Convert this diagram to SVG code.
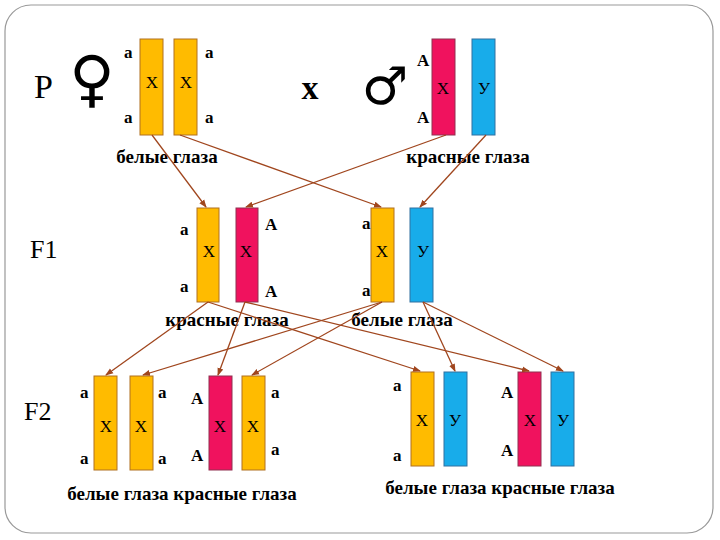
<svg xmlns="http://www.w3.org/2000/svg" width="720" height="540" viewBox="0 0 720 540">
<style>
.o{fill:#ffbb00;stroke:#b07020;stroke-width:1}
.r{fill:#f0125e;stroke:#903050;stroke-width:1}
.b{fill:#18acea;stroke:#3070a0;stroke-width:1}
text{font-family:"Liberation Serif","DejaVu Serif",serif}
.t{font-weight:bold;font-size:17px;fill:#000}
.x{font-size:17px;fill:#000;text-anchor:middle}
.l{font-weight:bold;font-size:19px;fill:#000;text-anchor:middle}
.c line{stroke:#a0461e;stroke-width:1.3;marker-end:url(#ah)}
</style>
<defs><marker id="ah" markerWidth="8" markerHeight="8" refX="7" refY="4" orient="auto" markerUnits="userSpaceOnUse"><path d="M0,1 L8,4 L0,7z" fill="#a0461e"/></marker></defs>
<rect x="5" y="5" width="708" height="528" rx="26" fill="#fff" stroke="#999" stroke-width="1.2"/>
<g id="P">
<text x="34" y="98" style="font-size:34px">P</text>
<text x="92" y="100" style="font-size:62px;font-family:'DejaVu Sans',sans-serif;text-anchor:middle">♀</text>
<text x="310" y="99" style="font-size:34px;font-weight:bold;text-anchor:middle">х</text>
<text x="385" y="104" style="font-size:52px;font-family:'DejaVu Sans',sans-serif;text-anchor:middle">♂</text>
</g>
<g id="pf">
<rect class="o" x="140" y="39" width="23" height="96"/><rect class="o" x="174" y="39" width="23" height="96"/>
<text class="t" x="124" y="58">а</text><text class="t" x="205" y="58">а</text><text class="t" x="124" y="123">а</text><text class="t" x="205" y="123">а</text>
<text class="x" x="152" y="88">Х</text><text class="x" x="186" y="88">Х</text>
<text class="l" x="167" y="163">белые глаза</text>
</g>
<g id="pm">
<rect class="r" x="432" y="39" width="23" height="96"/><rect class="b" x="472" y="39" width="23" height="96"/>
<text class="t" x="417" y="66">А</text><text class="t" x="417" y="123">А</text>
<text class="x" x="443" y="94">Х</text><text class="x" x="484" y="94">У</text>
<text class="l" x="468" y="163">красные глаза</text>
</g>
<g id="F1">
<text x="30" y="258" style="font-size:26px">F1</text>
<rect class="o" x="197" y="208" width="22" height="94"/><rect class="r" x="236" y="208" width="22" height="94"/>
<text class="t" x="180" y="235">а</text><text class="t" x="180" y="292">а</text><text class="t" x="265" y="230">А</text><text class="t" x="265" y="297">А</text>
<text class="x" x="209" y="257">Х</text><text class="x" x="246" y="257">Х</text>
<text class="l" x="227" y="326">красные глаза</text>
<rect class="o" x="371" y="208" width="23" height="94"/><rect class="b" x="410" y="208" width="23" height="94"/>
<text class="t" x="362" y="229">а</text><text class="t" x="362" y="296">а</text>
<text class="x" x="382" y="257">Х</text><text class="x" x="423" y="257">У</text>
<text class="l" x="402" y="326">белые глаза</text>
</g>
<g id="F2">
<text x="24" y="420" style="font-size:26px">F2</text>
<rect class="o" x="94" y="376" width="23" height="94"/><rect class="o" x="130" y="376" width="23" height="94"/>
<rect class="r" x="209" y="376" width="23" height="94"/><rect class="o" x="242" y="376" width="23" height="94"/>
<text class="t" x="80" y="398">а</text><text class="t" x="158" y="398">а</text><text class="t" x="80" y="464">а</text><text class="t" x="158" y="464">а</text>
<text class="t" x="191" y="404">А</text><text class="t" x="191" y="461">А</text><text class="t" x="271" y="398">а</text><text class="t" x="271" y="455">а</text>
<text class="x" x="106" y="432">Х</text><text class="x" x="141" y="432">Х</text><text class="x" x="220" y="432">Х</text><text class="x" x="253" y="432">Х</text>
<text class="l" x="182" y="500">белые глаза  красные глаза</text>
<rect class="o" x="411" y="372" width="23" height="94"/><rect class="b" x="444" y="372" width="23" height="94"/>
<rect class="r" x="518" y="372" width="23" height="94"/><rect class="b" x="551" y="372" width="23" height="94"/>
<text class="t" x="393" y="391">а</text><text class="t" x="393" y="461">а</text><text class="t" x="501" y="398">А</text><text class="t" x="501" y="456">А</text>
<text class="x" x="422" y="426">Х</text><text class="x" x="455" y="426">У</text><text class="x" x="530" y="426">Х</text><text class="x" x="563" y="426">У</text>
<text class="l" x="500" y="494">белые глаза красные глаза</text>
</g>
<g id="connectors" class="c">
<line x1="152" y1="135" x2="206" y2="207"/>
<line x1="180" y1="135" x2="381" y2="207"/>
<line x1="446" y1="135" x2="246" y2="207"/>
<line x1="486" y1="135" x2="420" y2="207"/>
<line x1="208" y1="302" x2="106" y2="375"/>
<line x1="208" y1="302" x2="420" y2="371"/>
<line x1="245" y1="302" x2="218" y2="375"/>
<line x1="245" y1="302" x2="529" y2="371"/>
<line x1="382" y1="302" x2="143" y2="375"/>
<line x1="382" y1="302" x2="252" y2="375"/>
<line x1="423" y1="302" x2="455" y2="371"/>
<line x1="423" y1="302" x2="563" y2="371"/>
</g>
</svg>
